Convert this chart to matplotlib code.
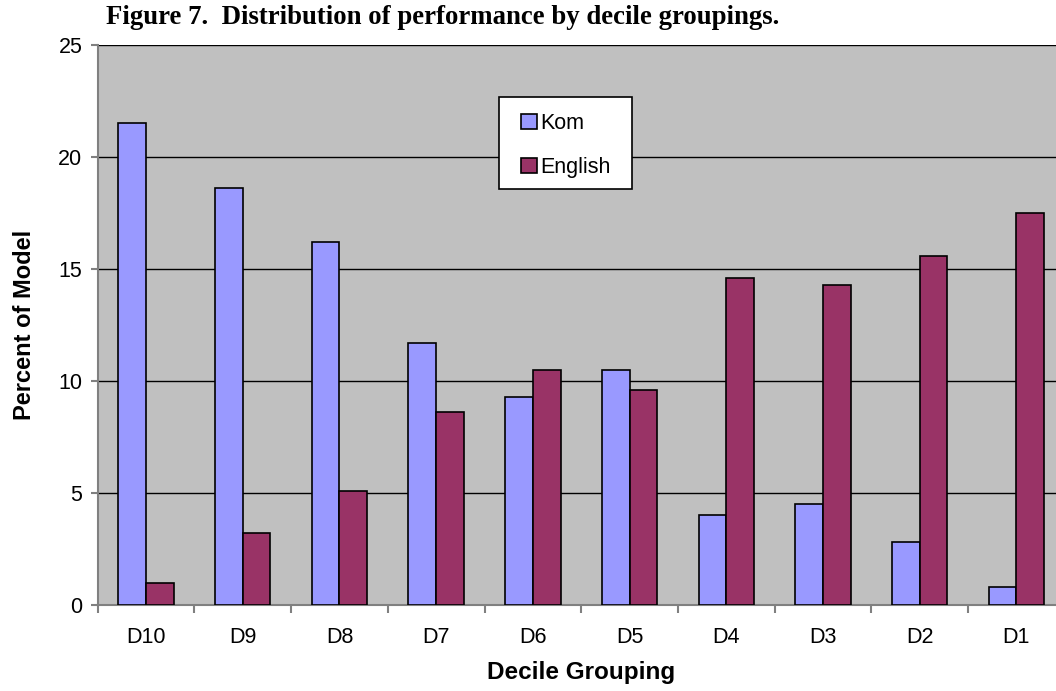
import matplotlib
matplotlib.use("Agg")
import matplotlib.pyplot as plt
from matplotlib.patches import Rectangle
import numpy as np

categories = ["D10", "D9", "D8", "D7", "D6", "D5", "D4", "D3", "D2", "D1"]
kom = [21.5, 18.6, 16.2, 11.7, 9.3, 10.5, 4.0, 4.5, 2.8, 0.8]
english = [1.0, 3.2, 5.1, 8.6, 10.5, 9.6, 14.6, 14.3, 15.6, 17.5]
yticks = [0, 5, 10, 15, 20, 25]

plt.rcParams['font.family'] = ['Liberation Sans', 'DejaVu Sans']

fig = plt.figure(figsize=(10.56, 6.91), dpi=100)
W, H = 1056, 691
left, right, top, bottom = 97.7, 1064.7, 45, 605
ax = fig.add_axes([left / W, 1 - bottom / H, (right - left) / W, (bottom - top) / H])
ax.set_facecolor('#C0C0C0')

x = np.arange(len(categories))
bw = 0.286
ax.bar(x - bw / 2, kom, bw, color='#9999FF', edgecolor='black', linewidth=1.2, label='Kom', zorder=3)
ax.bar(x + bw / 2, english, bw, color='#993366', edgecolor='black', linewidth=1.2, label='English', zorder=3)

ax.set_xlim(-0.5, len(categories) - 0.5)
ax.set_ylim(0, 25)
ax.set_yticks(yticks)
ax.set_yticklabels([str(v) for v in yticks], fontsize=15.5)
ax.set_xticks(x)
ax.set_xticklabels(categories, fontsize=15.5)
ax.tick_params(axis='x', length=0, pad=16)
ax.set_xticks(np.arange(-0.5, len(categories), 1), minor=True)
ax.tick_params(axis='x', which='minor', length=6, color='#808080', width=1.5)
ax.tick_params(axis='y', length=5, color='#808080', width=1.5, pad=6)
ax.grid(axis='y', color='black', linewidth=1, zorder=1)
ax.set_axisbelow(True)
for s in ['top', 'right']:
    ax.spines[s].set_visible(False)
for s in ['left', 'bottom']:
    ax.spines[s].set_color('#808080')
    ax.spines[s].set_linewidth(1.5)

ax.set_xlabel('Decile Grouping', fontsize=17.5, fontweight='bold', labelpad=9)
ax.set_ylabel('Percent of Model', fontsize=17, fontweight='bold', labelpad=16)

# legend box (white frame drawn separately to match padding)
def ax_xy(px, py):
    return ((px - left) / (right - left), (bottom - py) / (bottom - top))

bx0, by0 = ax_xy(499, 189)
bx1, by1 = ax_xy(632, 96.7)
ax.add_patch(Rectangle((bx0, by0), bx1 - bx0, by1 - by0, transform=ax.transAxes,
                       facecolor='white', edgecolor='black', linewidth=1.2, zorder=5))

lx, ly = ax_xy(521, 113)
leg = ax.legend(loc='upper left', bbox_to_anchor=(lx, ly),
                frameon=False, fontsize=15.5, handlelength=0.75, handleheight=0.7,
                handletextpad=0.15, labelspacing=1.05, borderpad=0, borderaxespad=0)
leg.set_zorder(6)

fig.text(106 / W, 1 - 18 / H, 'Figure 7.  Distribution of performance by decile groupings.',
         fontsize=19.3, fontweight='bold', family='Liberation Serif', va='center', ha='left')

fig.savefig('out.png', dpi=100)
